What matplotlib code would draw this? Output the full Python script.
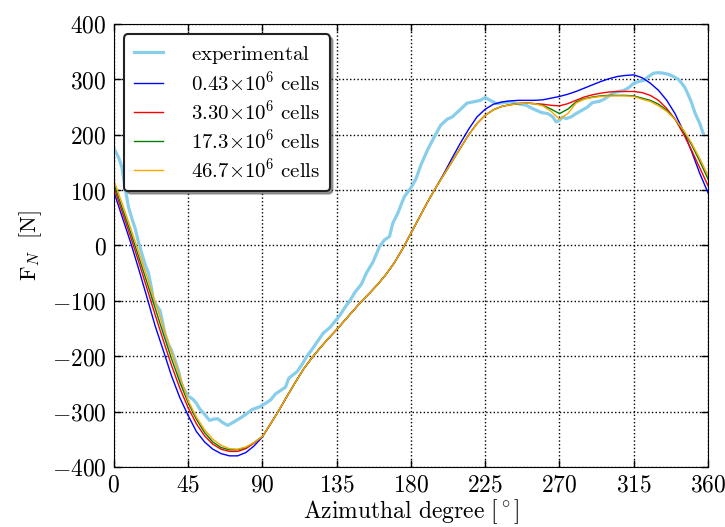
import matplotlib
matplotlib.use("Agg")
import matplotlib.pyplot as plt
from matplotlib.ticker import FuncFormatter, MultipleLocator
import numpy as np

plt.rcParams['mathtext.fontset'] = 'cm'
plt.rcParams['font.family'] = 'serif'

# azimuthal angle grid for the CFD curves
deg = np.arange(0, 361, 5)

blue = [97, 52, 7, -42, -93, -145, -190, -236, -275, -307, -336, -355, -368, -376, -380,
        -380, -374, -362, -346, -322, -298, -272, -247, -223, -203, -185, -168, -152, -135,
        -118, -101, -86, -70, -52, -31, -6, 22, 50, 78, 104, 130, 158, 185, 210, 232, 246,
        255, 259, 261, 262, 262, 262, 263, 266, 269, 273, 278, 284, 290, 296, 301, 305,
        307, 308, 303, 293, 280, 262, 238, 207, 170, 130, 95]
red = [105, 61, 17, -29, -77, -125, -172, -217, -258, -293, -322, -344, -359, -368, -372,
       -372, -367, -357, -345, -322, -298, -272, -247, -223, -203, -185, -168, -152, -135,
       -118, -101, -86, -70, -52, -31, -6, 22, 50, 78, 104, 128, 152, 176, 200, 220, 235,
       245, 251, 254, 256, 257, 256, 255, 253, 252, 256, 262, 268, 272, 275, 277, 278,
       278, 278, 276, 271, 262, 247, 228, 202, 172, 140, 108]
green = [112, 68, 25, -20, -66, -113, -160, -205, -247, -284, -314, -338, -355, -365, -369,
         -369, -365, -356, -345, -322, -298, -272, -247, -223, -203, -185, -168, -152, -135,
         -118, -101, -86, -70, -52, -31, -6, 22, 50, 78, 104, 128, 152, 176, 200, 220, 235,
         245, 251, 254, 256, 257, 256, 253, 246, 238, 246, 259, 265, 268, 270, 271, 271,
         271, 270, 266, 262, 255, 244, 228, 207, 182, 152, 120]
orange = [118, 76, 33, -11, -56, -102, -148, -193, -236, -280, -310, -333, -350, -361, -367,
          -368, -364, -356, -345, -322, -298, -272, -247, -223, -203, -185, -168, -152, -135,
          -118, -101, -86, -70, -52, -31, -6, 22, 50, 78, 104, 128, 152, 176, 200, 220, 235,
          245, 251, 254, 256, 257, 256, 252, 242, 228, 238, 257, 264, 267, 269, 270, 270,
          270, 269, 264, 260, 252, 242, 228, 209, 185, 157, 126]

exp_deg = [0, 1, 3, 5, 7, 9, 11, 13, 15, 17, 19, 21, 23, 24, 26, 28, 30, 31, 33, 35, 37, 39,
           41, 43, 45, 48, 50, 52, 55, 58, 60, 63, 66, 69, 72, 76, 80, 84, 88, 92, 95, 98,
           101, 104, 106, 108, 111, 114, 117, 120, 123, 127, 131, 134, 137, 140, 143, 146,
           150, 153, 157, 161, 164, 167, 169, 172, 176, 180, 183, 186, 190, 194, 198, 202,
           205, 209, 214, 219, 222, 225, 228, 232, 236, 240, 245, 250, 253, 256, 259, 263,
           266, 268, 270, 272, 274, 277, 280, 283, 287, 290, 294, 297, 300, 303, 306, 309,
           312, 315, 318, 321, 324, 327, 330, 333, 336, 339, 342, 344, 346, 348, 350, 352,
           355, 357]
exp_val = [175, 170, 158, 140, 100, 68, 48, 30, 5, -15, -35, -50, -80, -100, -108, -118,
           -145, -160, -178, -190, -207, -225, -250, -262, -272, -278, -285, -295, -305,
           -316, -314, -313, -320, -325, -320, -313, -305, -296, -292, -285, -279, -268,
           -262, -256, -240, -235, -228, -215, -200, -188, -175, -158, -148, -137, -126,
           -112, -100, -85, -70, -50, -30, -2, 10, 16, 40, 58, 88, 104, 120, 145, 172, 195,
           217, 228, 232, 243, 257, 260, 262, 267, 262, 256, 258, 259, 256, 253, 248, 244,
           240, 238, 232, 223, 226, 232, 229, 232, 238, 243, 250, 258, 260, 264, 270, 276,
           278, 280, 285, 293, 296, 298, 305, 311, 312, 311, 309, 305, 300, 293, 285, 272,
           258, 240, 220, 203]

fig = plt.figure(figsize=(7.25, 5.27), dpi=100)
ax = fig.add_axes([0.157, 0.114, 0.8196, 0.8406])

ax.plot(exp_deg, exp_val, color='#87ceeb', lw=2.3, label=r'$\mathrm{experimental}$')
ax.plot(deg, blue, color='blue', lw=1, label=r'$\mathrm{0.43{\times}10^6\ cells}$')
ax.plot(deg, red, color='red', lw=1, label=r'$\mathrm{3.30{\times}10^6\ cells}$')
ax.plot(deg, green, color='green', lw=1, label=r'$\mathrm{17.3{\times}10^6\ cells}$')
ax.plot(deg, orange, color='orange', lw=1, label=r'$\mathrm{46.7{\times}10^6\ cells}$')

ax.set_xlim(0, 360)
ax.set_ylim(-400, 400)
ax.xaxis.set_major_locator(MultipleLocator(45))
ax.yaxis.set_major_locator(MultipleLocator(100))
fmt = FuncFormatter(lambda v, p: r'$%d$' % v)
ax.xaxis.set_major_formatter(fmt)
ax.yaxis.set_major_formatter(fmt)
ax.tick_params(direction='in', top=True, right=True, length=5, width=1,
               labelsize=17, pad=5)
ax.grid(True, color='black', linestyle=':', lw=1)

ax.set_xlabel(r'$\mathrm{Azimuthal\ degree\ [{}^\circ]}$', fontsize=17, labelpad=0)
ax.set_ylabel(r'$\mathrm{F}_N\ \ \mathrm{[N]}$', fontsize=16, labelpad=6)

leg = ax.legend(loc='upper left', fontsize=15, handlelength=1.4, fancybox=True,
                shadow=True, framealpha=1, borderpad=0.45, labelspacing=0.22,
                handletextpad=1.35, borderaxespad=0.5)
leg.get_frame().set_edgecolor('#222222')
leg.get_frame().set_linewidth(1.5)

fig.savefig('out.png', dpi=100)
